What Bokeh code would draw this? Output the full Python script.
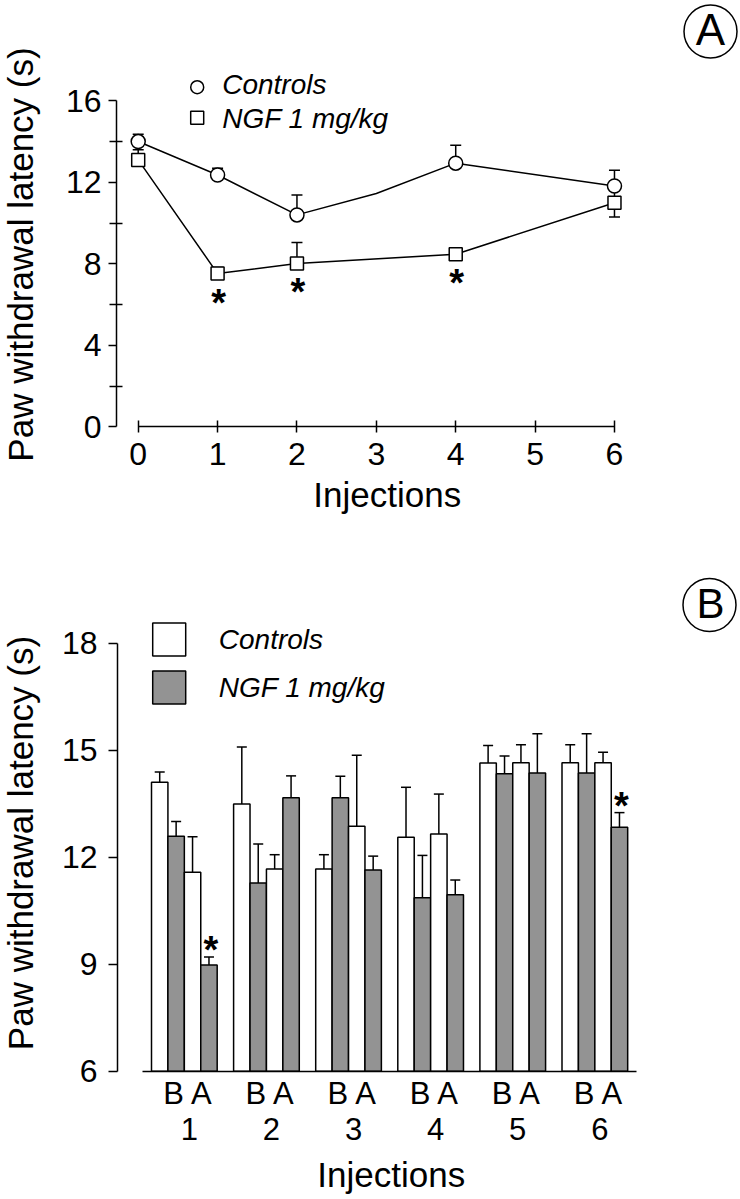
import math
from bokeh.plotting import figure
from bokeh.layouts import column
from bokeh.models import Range1d, FixedTicker
from bokeh.core.properties import value
from bokeh.embed import file_html
from bokeh.resources import INLINE

# ---------------- data: panel A ----------------
inj_a = [0, 1, 2, 4, 6]
ctrl_line_x = [0, 1, 2, 3, 4, 6]
ctrl_line_y = [14.0, 12.36, 10.40, 11.45, 12.94, 11.82]
ctrl_mean = [14.0, 12.36, 10.40, 12.94, 11.82]
ctrl_sem = [0.36, 0.33, 0.98, 0.88, 0.77]
ngf_mean = [13.10, 7.52, 8.02, 8.47, 11.00]
ngf_sem_up = [0.50, 0.30, 1.02, 0.20, 0.70]
ngf_sem_down = [0.0, 0.0, 0.0, 0.0, 0.70]
sig_a = [1, 2, 4]
x_ticks_a = [0, 1, 2, 3, 4, 5, 6]
y_ticks_a = [0, 4, 8, 12, 16]
y_minor_a = [2, 6, 10, 14]

# ---------------- data: panel B ----------------
groups_b = ["1", "2", "3", "4", "5", "6"]
phase_label = "B A"
ctrl_before = [14.10, 13.49, 11.67, 12.56, 14.64, 14.65]
ngf_before = [12.59, 11.28, 13.67, 10.86, 14.34, 14.36]
ctrl_after = [11.58, 11.67, 12.87, 12.65, 14.65, 14.65]
ngf_after = [8.98, 13.67, 11.64, 10.95, 14.36, 12.84]
ctrl_before_sem = [0.29, 1.60, 0.40, 1.40, 0.49, 0.50]
ngf_before_sem = [0.41, 1.09, 0.60, 1.19, 0.50, 1.10]
ctrl_after_sem = [0.99, 0.40, 1.99, 1.12, 0.50, 0.29]
ngf_after_sem = [0.22, 0.61, 0.39, 0.41, 1.10, 0.41]
sig_b_groups = [0, 5]          # NGF "after" bar significant in injection 1 and 6
y_ticks_b = [6, 9, 12, 15, 18]

series_labels = ["Controls", "NGF 1 mg/kg"]

# ---------------- layout / styling ----------------
FONT = value("Liberation Sans")
GREY = "#939393"
LW = 1.5
FIG_W = 740
H_A, H_B = 528, 671
PAGE_L, PAGE_T = 0, 0
BL = 0.4   # empirical baseline correction (fraction of font size)

# panel A pixel anchors (page coordinates)
A_X0, A_SX = 137.7, 79.38
A_Y0, A_SY = 426.3, 20.375
def xa(px): return (px - A_X0) / A_SX
def ya(py): return (A_Y0 - py) / A_SY

# panel B pixel anchors (page coordinates)
B_X0, B_SX = 151.0, 16.42
B_Y6, B_SY = 1070.7, 35.667
TOP_B = PAGE_T + H_A
def xb(px): return (px - B_X0) / B_SX
def yb(py): return 6 + (B_Y6 - py) / B_SY


def base_fig(xr, yr, h):
    p = figure(width=FIG_W, height=h, x_range=xr, y_range=yr,
               output_backend="svg", toolbar_location=None, min_border=0)
    p.outline_line_color = None
    p.grid.visible = False
    p.background_fill_color = "white"
    p.border_fill_color = "white"
    for ax in p.axis:
        ax.axis_line_width = LW
        ax.axis_line_color = "black"
        ax.major_tick_line_width = LW
        ax.minor_tick_line_width = LW
        ax.major_tick_line_color = "black"
        ax.minor_tick_line_color = "black"
        ax.major_label_text_font = "Liberation Sans"
        ax.major_label_text_font_size = "32px"
        ax.major_label_text_color = "black"
    return p

# ================= PANEL A =================
pa = base_fig(Range1d(xa(PAGE_L), xa(PAGE_L + FIG_W)),
              Range1d(ya(PAGE_T + H_A), ya(PAGE_T)), H_A)

xax = pa.xaxis[0]
xax.fixed_location = 0
xax.bounds = (x_ticks_a[0], x_ticks_a[-1])
xax.ticker = FixedTicker(ticks=x_ticks_a)
xax.major_tick_in = 6
xax.major_tick_out = 6
xax.minor_tick_in = 0
xax.minor_tick_out = 0
xax.major_label_standoff = 10

yax = pa.yaxis[0]
yax.fixed_location = xa(116)
yax.bounds = (y_ticks_a[0], y_ticks_a[-1])
yax.ticker = FixedTicker(ticks=y_ticks_a, minor_ticks=y_minor_a)
yax.major_tick_in = 0
yax.major_tick_out = 8
yax.minor_tick_in = 6
yax.minor_tick_out = 7
yax.major_label_standoff = 7

# lines
pa.line(ctrl_line_x, ctrl_line_y, line_color="black", line_width=LW)
pa.line(inj_a, ngf_mean, line_color="black", line_width=LW)

# error bars
c_top = [m + s for m, s in zip(ctrl_mean, ctrl_sem)]
pa.segment(inj_a, ctrl_mean, inj_a, c_top, line_color="black", line_width=LW)
pa.scatter(inj_a, c_top, marker="dash", size=11, line_color="black", line_width=LW)
n_top = [m + s for m, s in zip(ngf_mean, ngf_sem_up)]
pa.segment(inj_a, ngf_mean, inj_a, n_top, line_color="black", line_width=LW)
pa.scatter(inj_a, n_top, marker="dash", size=11, line_color="black", line_width=LW)
lo_x = [x for x, s in zip(inj_a, ngf_sem_down) if s > 0]
lo_m = [m for m, s in zip(ngf_mean, ngf_sem_down) if s > 0]
lo_y = [m - s for m, s in zip(ngf_mean, ngf_sem_down) if s > 0]
pa.segment(lo_x, lo_m, lo_x, lo_y, line_color="black", line_width=LW)
pa.scatter(lo_x, lo_y, marker="dash", size=11, line_color="black", line_width=LW)

# markers
pa.scatter(inj_a, ctrl_mean, marker="circle", size=14, fill_color="white",
           line_color="black", line_width=LW)
pa.scatter(inj_a, ngf_mean, marker="square", size=13, fill_color="white",
           line_color="black", line_width=LW)

# significance
sig_y = [ngf_mean[inj_a.index(i)] for i in sig_a]
pa.text(sig_a, sig_y, text=["*"] * len(sig_a), text_font=FONT,
        text_font_size=value("38px"), text_font_style=value("bold"),
        text_align="center", text_baseline="alphabetic", y_offset=29,
        x_offset=1, text_color="black")

# legend A
pa.scatter([xa(196.7)], [ya(86.7)], marker="circle", size=13, fill_color="white",
           line_color="black", line_width=LW)
pa.scatter([xa(196.7)], [ya(117.3)], marker="square", size=13, fill_color="white",
           line_color="black", line_width=LW)
pa.text([xa(221.7), xa(221.7)], [ya(95 - BL * 28), ya(129 - BL * 28)], text=series_labels,
        text_font=FONT, text_font_size=value("28px"), text_font_style=value("italic"),
        text_align="left", text_baseline="alphabetic", text_color="black")

# axis titles A
pa.text([xa(386.7)], [ya(508.3 - BL * 35)], text=["Injections"], text_font=FONT,
        text_font_size=value("35px"), text_align="center",
        text_baseline="alphabetic", text_color="black")
pa.text([xa(34 - BL * 35)], [ya(254)], text=["Paw withdrawal latency (s)"], text_font=FONT,
        text_font_size=value("35px"), text_align="center", angle=math.pi / 2,
        text_baseline="alphabetic", text_color="black")

# panel letter A
pa.scatter([xa(710)], [ya(31)], marker="circle", size=53, fill_color=None,
           line_color="black", line_width=LW)
pa.text([xa(710)], [ya(46.7 - BL * 44)], text=["A"], text_font=FONT,
        text_font_size=value("44px"), text_align="center",
        text_baseline="alphabetic", text_color="black")

# ================= PANEL B =================
pb = base_fig(Range1d(xb(PAGE_L), xb(PAGE_L + FIG_W)),
              Range1d(yb(TOP_B + H_B), yb(TOP_B)), H_B)

SLOT = 5  # 4 bars + 1 gap per injection
n = len(groups_b)
series = [
    (ctrl_before, ctrl_before_sem, "white"),
    (ngf_before, ngf_before_sem, GREY),
    (ctrl_after, ctrl_after_sem, "white"),
    (ngf_after, ngf_after_sem, GREY),
]
for k, (vals, sems, col) in enumerate(series):
    xs = [g * SLOT + k + 0.5 for g in range(n)]
    pb.vbar(x=xs, width=1, bottom=y_ticks_b[0], top=vals, fill_color=col,
            line_color="black", line_width=LW)
    tops = [v + s for v, s in zip(vals, sems)]
    pb.segment(xs, vals, xs, tops, line_color="black", line_width=LW)
    pb.scatter(xs, tops, marker="dash", size=10, line_color="black", line_width=LW)

# significance B
sx = [g * SLOT + 3 + 0.5 for g in sig_b_groups]
sy = [ngf_after[g] + ngf_after_sem[g] for g in sig_b_groups]
pb.text(sx, sy, text=["*"] * len(sx), text_font=FONT, text_font_size=value("38px"),
        text_font_style=value("bold"), text_align="center",
        text_baseline="alphabetic", y_offset=-7, x_offset=2, text_color="black")

# axes B
ybx = pb.yaxis[0]
ybx.fixed_location = xb(117)
ybx.bounds = (y_ticks_b[0], y_ticks_b[-1])
ybx.ticker = FixedTicker(ticks=y_ticks_b)
ybx.major_tick_in = 0
ybx.major_tick_out = 9
ybx.minor_tick_in = 0
ybx.minor_tick_out = 0
ybx.major_label_standoff = 11

xbx = pb.xaxis[0]
xbx.fixed_location = y_ticks_b[0]
xbx.bounds = (-0.57, n * SLOT - 1 + 0.55)
xbx.ticker = FixedTicker(ticks=[])
xbx.major_tick_in = 0
xbx.major_tick_out = 0
xbx.minor_tick_in = 0
xbx.minor_tick_out = 0

# group labels
gx = [g * SLOT + 2 for g in range(n)]
pb.text(gx, [yb(1105.7 - BL * 31)] * n, text=[phase_label] * n, text_font=FONT,
        text_font_size=value("31px"), text_align="center",
        text_baseline="alphabetic", x_offset=4, text_color="black")
pb.text(gx, [yb(1140.7 - BL * 31)] * n, text=groups_b, text_font=FONT,
        text_font_size=value("31px"), text_align="center",
        text_baseline="alphabetic", x_offset=5, text_color="black")

# legend B
pb.scatter([xb(168.7)], [yb(638.9)], marker="square", size=33, fill_color="white",
           line_color="black", line_width=LW)
pb.scatter([xb(168.7)], [yb(687.0)], marker="square", size=33, fill_color=GREY,
           line_color="black", line_width=LW)
pb.text([xb(218.3), xb(218.3)], [yb(650 - BL * 28), yb(698.3 - BL * 28)], text=series_labels,
        text_font=FONT, text_font_size=value("28px"), text_font_style=value("italic"),
        text_align="left", text_baseline="alphabetic", text_color="black")

# axis titles B
pb.text([xb(390.8)], [yb(1188.3 - BL * 35)], text=["Injections"], text_font=FONT,
        text_font_size=value("35px"), text_align="center",
        text_baseline="alphabetic", text_color="black")
pb.text([xb(34 - BL * 35)], [yb(842.5)], text=["Paw withdrawal latency (s)"], text_font=FONT,
        text_font_size=value("35px"), text_align="center", angle=math.pi / 2,
        text_baseline="alphabetic", text_color="black")

# panel letter B
pb.scatter([xb(709)], [yb(604.5)], marker="circle", size=53, fill_color=None,
           line_color="black", line_width=LW)
pb.text([xb(710)], [yb(620 - BL * 42)], text=["B"], text_font=FONT,
        text_font_size=value("42px"), text_align="center",
        text_baseline="alphabetic", text_color="black")

layout = column(pa, pb)
open("out.html", "w").write(file_html(layout, INLINE))
